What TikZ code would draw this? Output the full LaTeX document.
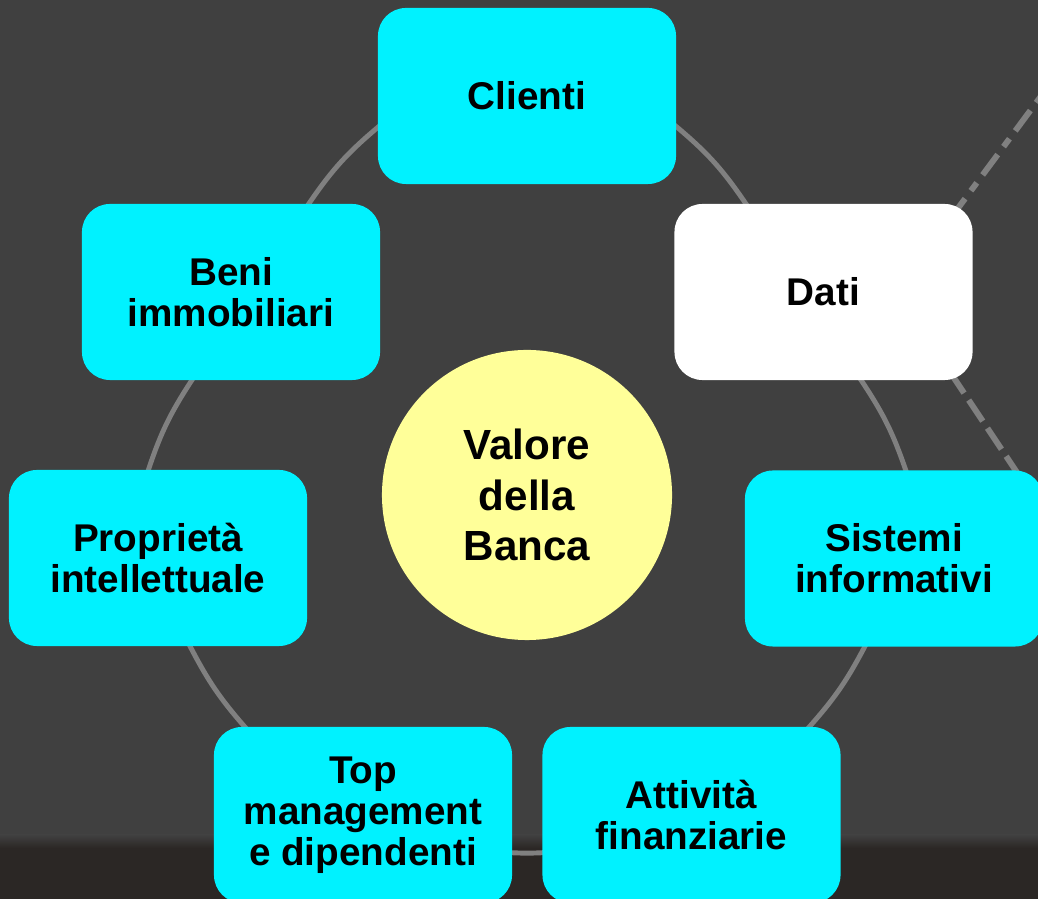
\documentclass[tikz,border=0pt]{standalone}
\usepackage{fontspec}
\setmainfont{Liberation Sans}
\definecolor{bg}{RGB}{64,64,64}
\definecolor{floorc}{RGB}{43,39,37}
\definecolor{boxcyan}{RGB}{0,242,255}
\definecolor{centeryellow}{RGB}{255,255,153}
\definecolor{ringgray}{RGB}{128,128,128}
\begin{document}
\begin{tikzpicture}[x=0.025cm,y=0.025cm,
  box/.style={rounded corners=0.7cm, minimum width=7.45cm, minimum height=4.4cm,
    inner sep=0pt, align=center, text=black,
    font=\fontsize{27.5}{29.2}\selectfont\bfseries},
  cyanbox/.style={box, fill=boxcyan},
  whitebox/.style={box, fill=white},
  centrecircle/.style={circle, fill=centeryellow, minimum size=7.25cm, inner sep=0pt,
    align=center, text=black, font=\fontsize{30}{36.1}\selectfont\bfseries},
  ring/.style={draw=ringgray, line width=3.5pt, shorten <=-4pt, shorten >=-4pt},
  dashdotline/.style={draw=ringgray, line width=4.2pt, dash pattern=on 18pt off 7pt on 7pt off 7pt},
  dashline/.style={draw=ringgray, line width=4.2pt, dash pattern=on 18pt off 6pt},
]
\useasboundingbox (0,0) rectangle (1038,899);
\clip (0,0) rectangle (1038,899);
% background
\fill[bg] (0,0) rectangle (1038,899);
\fill[floorc] (0,0) rectangle (1038,51);
\shade[top color=bg, bottom color=floorc] (0,51) rectangle (1038,64);

% ring arc end points
\coordinate (r1a) at (377,771); \coordinate (r1b) at (310,697);
\coordinate (r2a) at (190,516); \coordinate (r2b) at (149,431);
\coordinate (r3a) at (192,249); \coordinate (r3b) at (244,173);
\coordinate (r4a) at (474,50);  \coordinate (r4b) at (580,50);
\coordinate (r5a) at (811,174); \coordinate (r5b) at (863,249);
\coordinate (r6a) at (905,431); \coordinate (r6b) at (863,516);
\coordinate (r7a) at (744,698); \coordinate (r7b) at (678,771);

\draw[ring] (r1a) to[bend right=8] (r1b);
\draw[ring] (r2a) to[bend right=7.5] (r2b);
\draw[ring] (r3a) to[bend right=7] (r3b);
\draw[ring] (r4a) to[bend right=8] (r4b);
\draw[ring] (r5a) to[bend right=7] (r5b);
\draw[ring] (r6a) to[bend right=7.5] (r6b);
\draw[ring] (r7a) to[bend right=8] (r7b);

% dashed lines leaving "Dati"
\coordinate (d1a) at (950,680); \coordinate (d1b) at (1050,815);
\coordinate (d2a) at (950,527); \coordinate (d2b) at (1030,407);
\draw[dashdotline] (d1a) -- (d1b);
\draw[dashline] (d2a) -- (d2b);

% nodes
\node[cyanbox] (clienti) at (527,803) {Clienti};
\node[whitebox] (dati) at (823.5,607) {Dati};
\node[cyanbox] (beni) at (231,607) {Beni\\immobiliari};
\node[cyanbox] (prop) at (158,341) {Propriet\`a\\intellettuale};
\node[cyanbox] (sistemi) at (894,340.5) {Sistemi\\informativi};
\node[cyanbox] (top) at (363,84) {Top\\management\\e dipendenti};
\node[cyanbox] (attiv) at (691.5,84) {Attivit\`a\\finanziarie};
\node[centrecircle] (centre) at (527,404) {Valore\\della\\Banca};
\end{tikzpicture}
\end{document}
